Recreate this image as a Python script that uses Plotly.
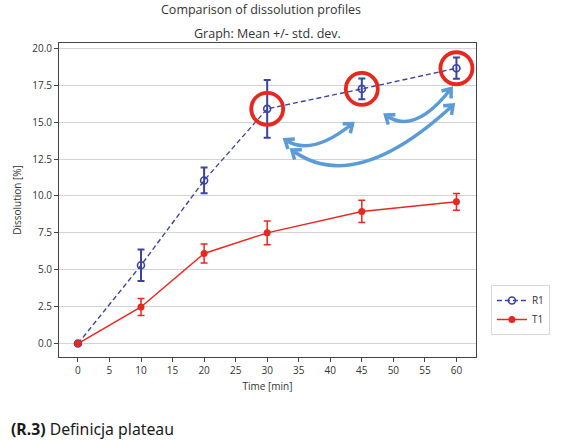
import math
import plotly.graph_objects as go

# ---- data ----
time_min = [0, 10, 20, 30, 45, 60]
r1_mean = [0.0, 5.3, 11.05, 15.9, 17.25, 18.65]
r1_sd = [0.0, 1.07, 0.87, 1.95, 0.7, 0.72]
t1_mean = [0.0, 2.48, 6.1, 7.5, 8.95, 9.6]
t1_sd = [0.0, 0.58, 0.65, 0.8, 0.75, 0.57]
x_ticks = list(range(0, 61, 5))
y_ticks = [0, 2.5, 5, 7.5, 10, 12.5, 15, 17.5, 20]
plateau_idx = [3, 4, 5]

BLUE = "#3b44a3"
RED = "#e8281f"
ARROW = "#5b9bd6"

W, H = 562, 440
ML, MT, PW, PH = 59, 43, 419, 314
MR, MB = W - ML - PW, H - MT - PH
XR = [-3.0, 63.1]
YR = [-0.91, 20.36]


def px2data(px, py):
    x = XR[0] + (px - ML) / PW * (XR[1] - XR[0])
    y = YR[1] - (py - MT) / PH * (YR[1] - YR[0])
    return x, y


def px2paper(px, py):
    return (px - ML) / PW, (MT + PH - py) / PH


fig = go.Figure()
fig.add_trace(go.Scatter(
    x=time_min, y=r1_mean, name="R1", mode="lines+markers",
    line=dict(color=BLUE, width=1.4, dash="5px,3px"),
    marker=dict(symbol="circle-open", size=7, color=BLUE, line=dict(width=1.6)),
    error_y=dict(type="data", array=r1_sd, color=BLUE, thickness=2, width=3.5),
))
fig.add_trace(go.Scatter(
    x=time_min, y=t1_mean, name="T1", mode="lines+markers",
    line=dict(color=RED, width=1.5),
    marker=dict(symbol="circle", size=7, color=RED),
    error_y=dict(type="data", array=t1_sd, color=RED, thickness=1.5, width=3.5),
))

shapes = []
for i in plateau_idx:
    shapes.append(dict(
        type="circle", xref="x", yref="y",
        xsizemode="pixel", ysizemode="pixel",
        xanchor=time_min[i], yanchor=r1_mean[i],
        x0=-16, x1=16, y0=-16, y1=16,
        line=dict(color=RED, width=3.8),
    ))

arrows = [
    ((286, 139.5), (312, 157.5), (354, 123.5)),
    ((387, 115.0), (416, 136.0), (453, 88.5)),
    ((293, 150.0), (356, 196.5), (455, 105.0)),
]


def chevron(tip, frm, L=10, ang=38):
    dx, dy = tip[0] - frm[0], tip[1] - frm[1]
    n = math.hypot(dx, dy)
    dx, dy = dx / n, dy / n
    pts = []
    for s in (1, -1):
        a = math.radians(ang * s)
        rx = dx * math.cos(a) - dy * math.sin(a)
        ry = dx * math.sin(a) + dy * math.cos(a)
        pts.append((tip[0] - L * rx, tip[1] - L * ry))
    return pts


def fmt(p):
    x, y = px2data(*p)
    return f"{x:.4f},{y:.4f}"


for p0, p1, p2 in arrows:
    path = f"M {fmt(p0)} Q {fmt(p1)} {fmt(p2)}"
    for tip, frm in ((p0, p1), (p2, p1)):
        a, b = chevron(tip, frm)
        path += f" M {fmt(a)} L {fmt(tip)} L {fmt(b)}"
    shapes.append(dict(type="path", xref="x", yref="y", path=path,
                       line=dict(color=ARROW, width=3.5)))

t1x, t1y = px2paper(262, 10)
t2x, t2y = px2paper(268, 33)
cx, cy = px2paper(9, 429)
lx, ly = px2paper(493, 285)

fig.update_layout(
    width=W, height=H,
    margin=dict(l=ML, r=MR, t=MT, b=MB),
    paper_bgcolor="white", plot_bgcolor="white",
    font=dict(family="Open Sans, sans-serif", size=10, color="#333333"),
    shapes=shapes,
    showlegend=True,
    legend=dict(x=lx, y=ly, xanchor="left", yanchor="top",
                bgcolor="white", bordercolor="#d8d8d8", borderwidth=1,
                font=dict(size=10, color="#333333"),
                itemwidth=30, tracegroupgap=0),
    annotations=[
        dict(text="Comparison of dissolution profiles", xref="paper", yref="paper",
             x=t1x, y=t1y, xanchor="center", yanchor="middle",
             showarrow=False, font=dict(size=12.5, color="#333333")),
        dict(text="Graph: Mean +/- std. dev.", xref="paper", yref="paper",
             x=t2x, y=t2y, xanchor="center", yanchor="middle",
             showarrow=False, font=dict(size=12.5, color="#333333")),
        dict(text="<b>(R.3)</b> Definicja plateau", xref="paper", yref="paper",
             x=cx, y=cy, xanchor="left", yanchor="middle",
             showarrow=False, font=dict(family="Noto Sans, sans-serif", size=15.8, color="#1a1a1a")),
    ],
)
fig.update_xaxes(
    range=XR, tickvals=x_ticks, showgrid=False, zeroline=False,
    showline=True, mirror=True, linecolor="#444444", linewidth=1,
    ticks="outside", ticklen=4, tickcolor="#444444",
    title=dict(text="Time [min]", standoff=6, font=dict(size=10)),
)
fig.update_yaxes(
    range=YR, tickvals=y_ticks, tickformat=".1f", showgrid=True,
    gridcolor="#d4d4d4", gridwidth=1, zeroline=False,
    showline=True, mirror=True, linecolor="#444444", linewidth=1,
    ticks="outside", ticklen=4, tickcolor="#444444",
    title=dict(text="Dissolution [%]", standoff=8, font=dict(size=10)),
)

fig.write_html("out.html", config={"displayModeBar": False},
               post_script="document.body.style.margin='0px';")
